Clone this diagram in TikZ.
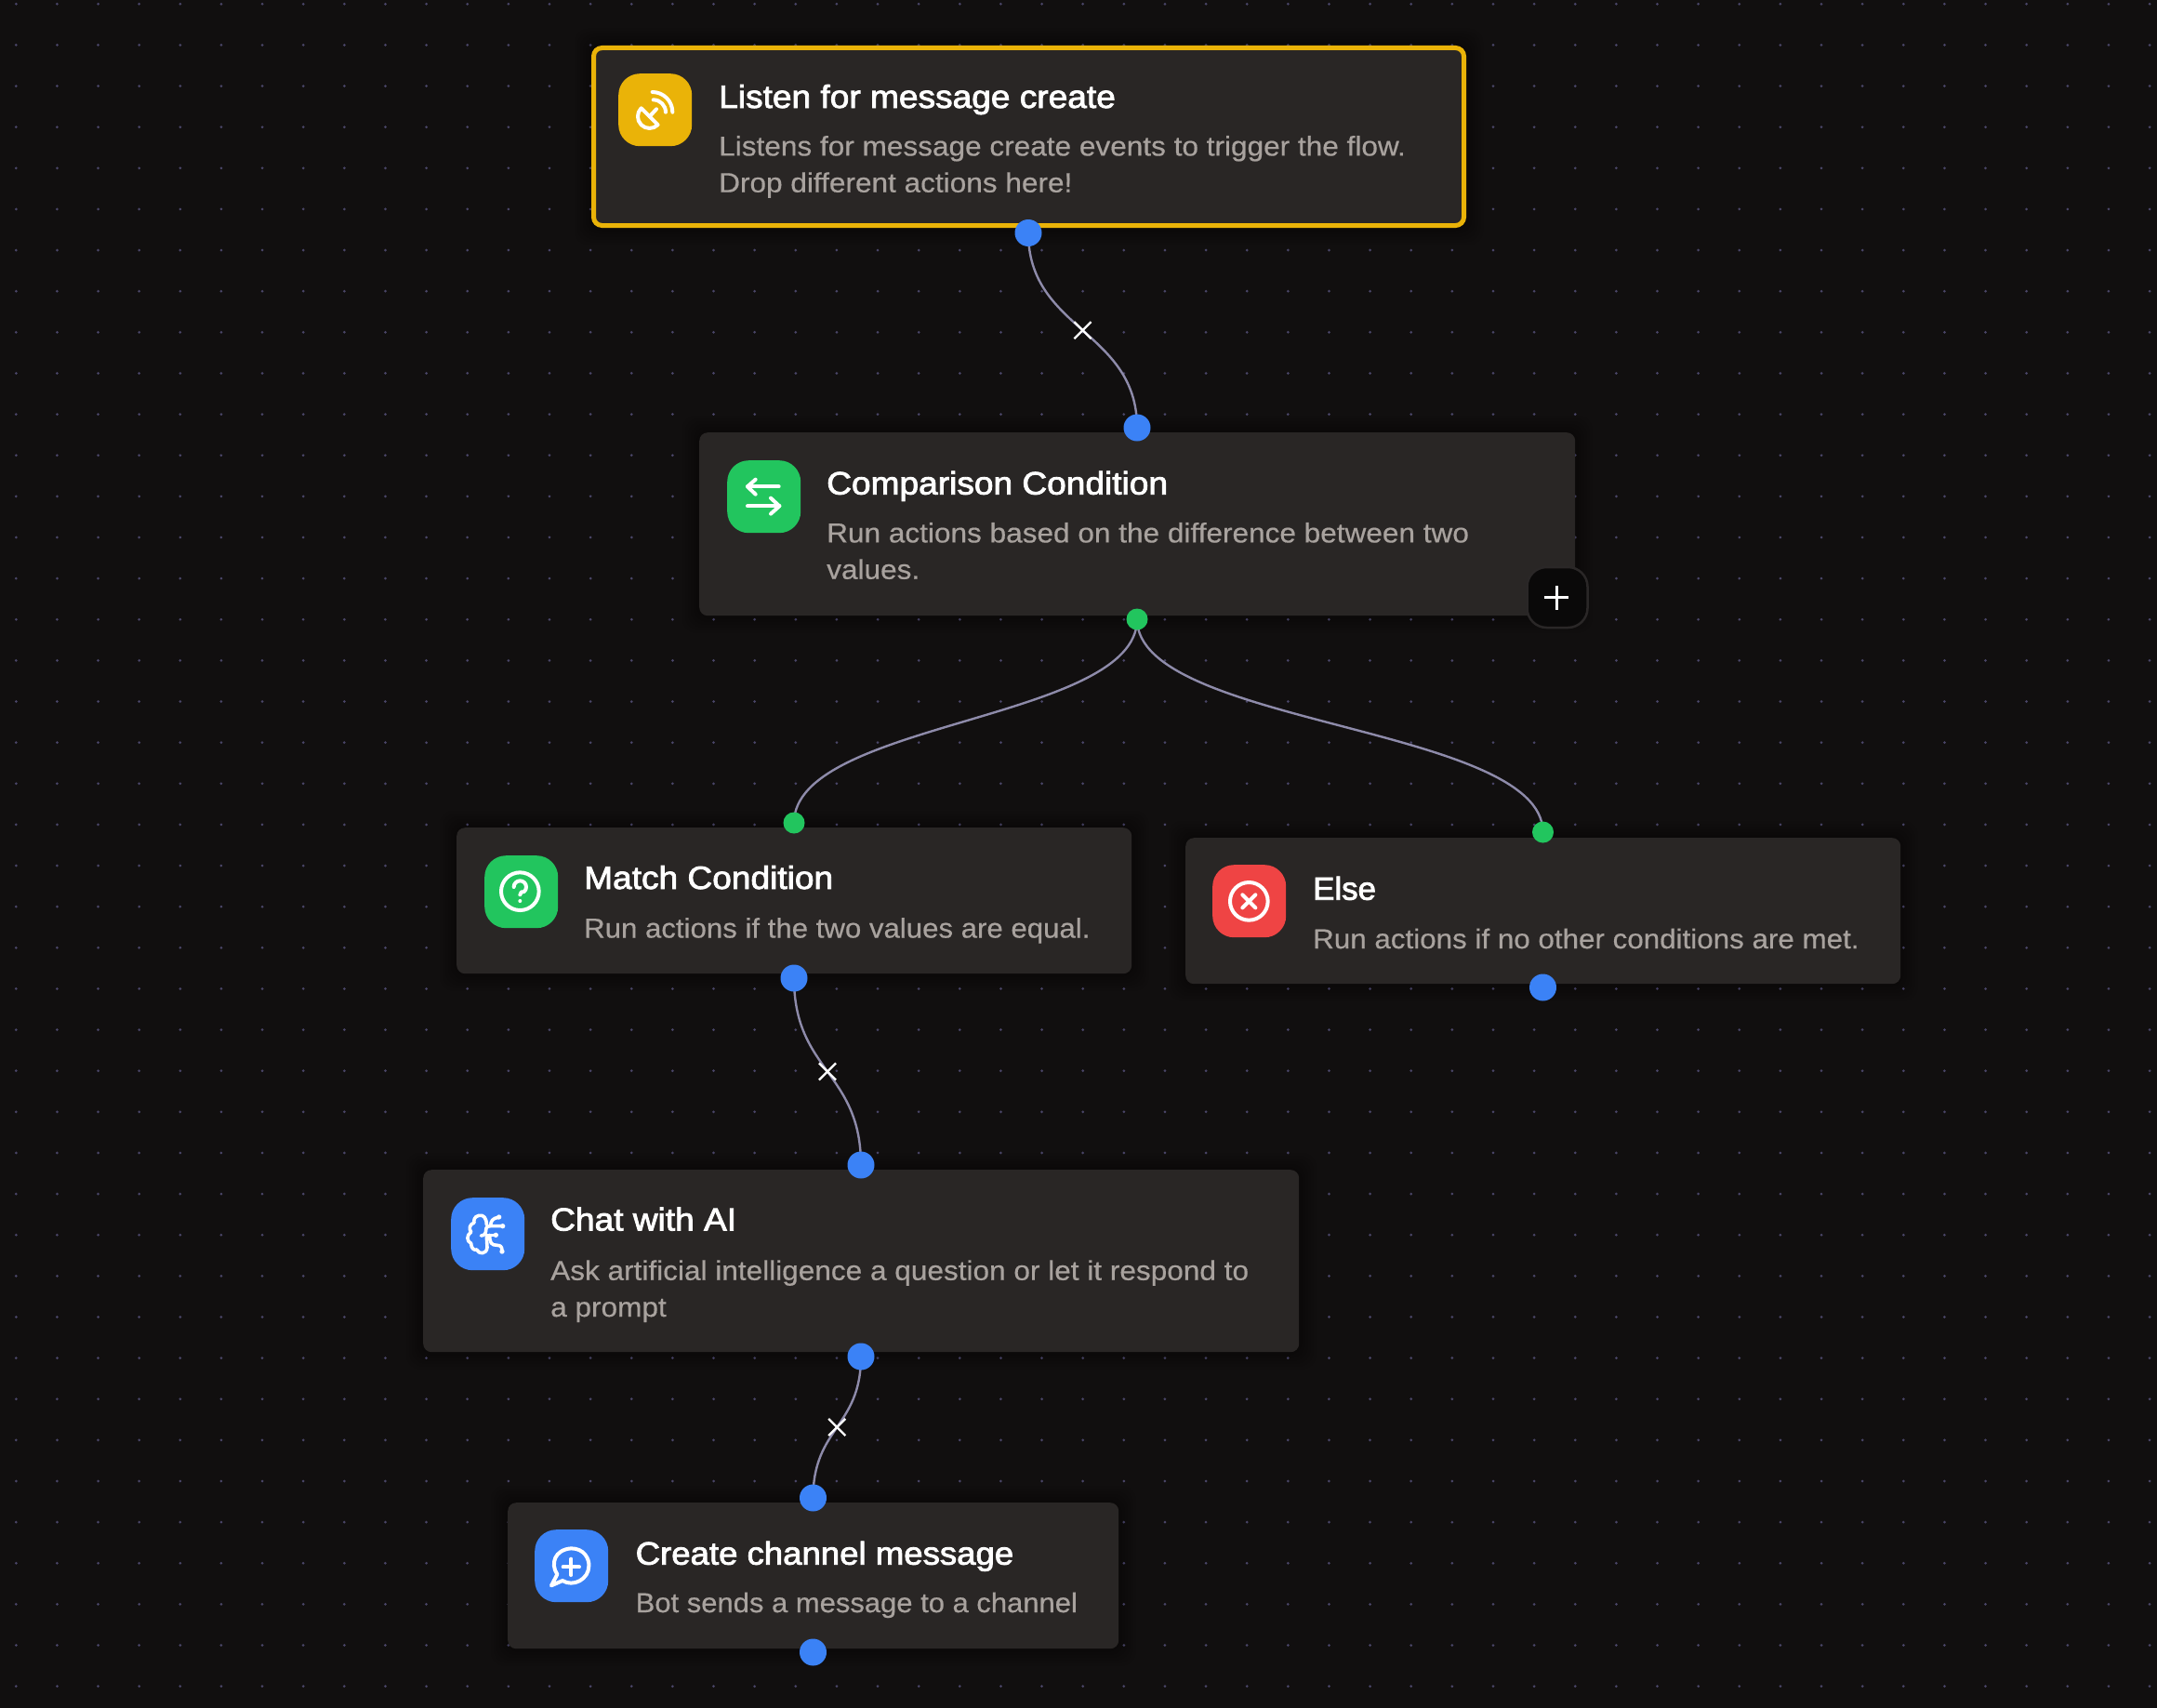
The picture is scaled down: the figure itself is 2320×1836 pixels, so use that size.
\documentclass[tikz,border=0pt]{standalone}
\usepackage{fontspec}
\usetikzlibrary{backgrounds,shapes.misc,calc}
\pgfdeclarelayer{edgelayer}
\pgfsetlayers{background,edgelayer,main}
\newfontfamily\ttlfont[FakeBold=2.4,FakeStretch=1.075]{Liberation Sans}
\newfontfamily\ttlfontb[FakeBold=2.4,FakeStretch=1.06]{Liberation Sans}
\newfontfamily\ttlfontc[FakeBold=2.4,FakeStretch=1.01]{Liberation Sans}
\newfontfamily\dscfont[FakeBold=0.5,FakeStretch=1.07]{Liberation Sans}
\newfontfamily\dscfontb[FakeBold=0.5,FakeStretch=1.057]{Liberation Sans}
\newfontfamily\dscfontc[FakeBold=0.5,FakeStretch=1.05]{Liberation Sans}
\newfontfamily\dscfontd[FakeBold=0.5,FakeStretch=1.063]{Liberation Sans}
\definecolor{bgc}{HTML}{110F0F}
\definecolor{boxc}{HTML}{292625}
\definecolor{dotc}{HTML}{4A4668}
\definecolor{edgec}{HTML}{8E8BAA}
\definecolor{ylw}{HTML}{EAB308}
\definecolor{grn}{HTML}{22C55E}
\definecolor{red}{HTML}{EF4444}
\definecolor{blu}{HTML}{3B82F6}
\definecolor{dsc}{HTML}{A8A29E}
\definecolor{plusbg}{HTML}{0A0909}
\definecolor{plusbd}{HTML}{2A2727}
\tikzset{
  x=1pt,y=1pt,
  card/.style={fill=boxc,rounded corners=9pt,inner sep=0pt,anchor=north west,draw=none},
  iconbox/.style={rounded corners=23pt,inner sep=0pt,minimum width=79pt,minimum height=78pt,anchor=north west,draw=none},
  ttl/.style={anchor=base west,inner sep=0pt,text=white,font=\ttlfont\fontsize{34.5}{40}\selectfont},
  ttlb/.style={ttl,font=\ttlfontb\fontsize{34.5}{40}\selectfont},
  ttlc/.style={ttl,font=\ttlfontc\fontsize{34.5}{40}\selectfont},
  dsc/.style={anchor=base west,inner sep=0pt,text=dsc,align=left,font=\dscfont\fontsize{29.5}{39.3}\selectfont},
  dscb/.style={dsc,font=\dscfontb\fontsize{29.5}{39.3}\selectfont},
  dscc/.style={dsc,font=\dscfontc\fontsize{29.5}{39.3}\selectfont},
  dscd/.style={dsc,font=\dscfontd\fontsize{29.5}{39.3}\selectfont},
  bluehandle/.style={circle,fill=blu,inner sep=0pt,minimum size=29pt},
  greenhandle/.style={circle,fill=grn,inner sep=0pt,minimum size=23pt},
  wire/.style={draw=edgec,line width=2.4pt},
  xmark/.style={cross out,draw=white,line width=2.2pt,inner sep=0pt,minimum size=16pt},
  ico/.style={draw=white,line width=4pt,line cap=round,line join=round},
  glow/.style={black,opacity=0.02,rounded corners=14pt},
}
\newcommand{\wirelink}[3]{%
  \path (#1) -- (#2) coordinate[midway] (#3);
  \begin{pgfonlayer}{edgelayer}
    \draw[wire] (#1.center) .. controls (#1 |- #3) and (#2 |- #3) .. (#2.center);
  \end{pgfonlayer}}
\newcommand{\cardshadow}[1]{%
  \begin{pgfonlayer}{edgelayer}
  \foreach \d in {3,6,9,12,15,18} {
    \fill[glow] ($(#1.south west)+(-\d,-\d)$) rectangle ($(#1.north east)+(\d,\d)$);
  }
  \end{pgfonlayer}}
\begin{document}
\begin{tikzpicture}
\useasboundingbox (0,0) rectangle (2320,-1836);
\begin{scope}[on background layer]
  \fill[bgc] (-3,3) rectangle (2323,-1839);
  \fill[dotc] foreach \i in {0,...,52} { foreach \j in {0,...,41} {
     ({17.3+44.13*\i},{-4.3-44.13*\j}) circle[radius=1.5] } };
\end{scope}
% cards
\node[card,draw=ylw,line width=5pt,minimum width=936pt,minimum height=191pt] (listen) at (636,-49) {};
\node[card,minimum width=942pt,minimum height=197pt] (compare) at (752,-465) {};
\node[card,minimum width=726pt,minimum height=157pt] (match) at (491,-890) {};
\node[card,minimum width=769pt,minimum height=157pt] (else) at (1275,-901) {};
\node[card,minimum width=942pt,minimum height=196pt] (chat) at (455,-1258) {};
\node[card,minimum width=657pt,minimum height=157pt] (create) at (546,-1616) {};
\cardshadow{listen}\cardshadow{compare}\cardshadow{match}\cardshadow{else}\cardshadow{chat}\cardshadow{create}
% icon tiles
\node[iconbox,fill=ylw] (icListen) at (665,-79) {};
\node[iconbox,fill=grn] (icCompare) at (782,-495) {};
\node[iconbox,fill=grn] (icMatch) at (521,-920) {};
\node[iconbox,fill=red] (icElse) at (1304,-930) {};
\node[iconbox,fill=blu] (icChat) at (485,-1288) {};
\node[iconbox,fill=blu] (icCreate) at (575,-1645) {};
% text
\node[ttl] (t1) at (773,-116) {Listen for message create};
\node[dsc] (d1) at (773,-206.7) {Listens for message create events to trigger the flow.\\Drop different actions here!};
\node[ttl] (t2) at (889,-531.7) {Comparison Condition};
\node[dsc] (d2) at (889,-622.7) {Run actions based on the difference between two\\values.};
\node[ttl] (t3) at (628,-956) {Match Condition};
\node[dscb] (d3) at (628,-1008.5) {Run actions if the two values are equal.};
\node[ttlc] (t4) at (1412,-967.7) {Else};
\node[dscd] (d4) at (1412,-1020) {Run actions if no other conditions are met.};
\node[ttl] (t5) at (592,-1323.5) {Chat with AI};
\node[dsc] (d5) at (592,-1416) {Ask artificial intelligence a question or let it respond to\\a prompt};
\node[ttlb] (t6) at (683.5,-1682.7) {Create channel message};
\node[dscc] (d6) at (683.5,-1734) {Bot sends a message to a channel};
% handles
\node[bluehandle] (h1) at (1106,-250.5) {};
\node[bluehandle] (h2) at (1223,-460) {};
\node[greenhandle] (h3) at (1223,-666) {};
\node[greenhandle] (h4) at (854,-885) {};
\node[greenhandle] (h5) at (1659.5,-895) {};
\node[bluehandle] (h6) at (854,-1052) {};
\node[bluehandle] (h7) at (1659.5,-1062) {};
\node[bluehandle] (h8) at (926,-1253) {};
\node[bluehandle] (h9) at (926,-1459) {};
\node[bluehandle] (h10) at (874.5,-1611) {};
\node[bluehandle] (h11) at (874.5,-1777) {};
% wires
\wirelink{h1}{h2}{m1}
\wirelink{h3}{h4}{m2}
\wirelink{h3}{h5}{m3}
\wirelink{h6}{h8}{m4}
\wirelink{h9}{h10}{m5}
\node[xmark] (x1) at (m1) {};
\node[xmark] (x4) at (m4) {};
\node[xmark] (x5) at (m5) {};
% plus button
\node[rounded corners=21pt,fill=plusbg,draw=plusbd,line width=2.5pt,minimum size=65pt,inner sep=0pt] (plus) at (1675,-642.5) {};
\draw[white,line width=3pt] ($(plus.center)+(-14,0)$) -- ($(plus.center)+(12,0)$);
\draw[white,line width=3pt] ($(plus.center)+(-1,-13)$) -- ($(plus.center)+(-1,13)$);
% icon: dish
\begin{scope}[shift={(620,-30)},scale=1/3,ico]
  \draw (209,-259) arc[start angle=135,end angle=315,radius=38] -- cycle;
  \draw (236,-286) -- (258,-262);
  \draw (245,-207) arc[start angle=90,end angle=0,radius=65];
  \draw (248,-232) arc[start angle=90,end angle=0,radius=40];
\end{scope}
% icon: swap
\begin{scope}[shift={(740,-450)},scale=1/3,ico]
  \draw (293,-220) -- (192,-220);
  \draw (218,-197) -- (192,-220) -- (218,-245);
  \draw (192,-283) -- (295,-283);
  \draw (267,-257) -- (295,-283) -- (267,-308);
\end{scope}
% icon: question
\begin{scope}[shift={(480,-880)},scale=1/3,ico]
  \draw (238,-236) circle[radius=61];
  \draw (218,-222) arc[start angle=180,end angle=-50,radius=20] .. controls (245,-236) and (238,-238) .. (238,-247);
  \fill[white] (238,-267) circle[radius=6];
\end{scope}
% icon: cross
\begin{scope}[shift={(1270,-900)},scale=1/3,ico]
  \draw (220,-208) circle[radius=61];
  \draw (199,-187) -- (241,-229);
  \draw (241,-187) -- (199,-229);
\end{scope}
% icon: brain
\begin{scope}[shift={(460,-1260)},scale=1/3,ico,line width=3.6pt]
  \draw (190,-172) .. controls (190,-150) and (180,-138) .. (165,-142)
     .. controls (150,-145) and (148,-158) .. (150,-165)
     .. controls (135,-170) and (132,-185) .. (140,-195)
     .. controls (125,-205) and (125,-225) .. (140,-232)
     .. controls (140,-248) and (150,-255) .. (158,-252)
     .. controls (165,-268) and (190,-268) .. (192,-245) -- (190,-210);
  \draw (172,-207) .. controls (182,-207) and (188,-200) .. (188,-190) .. controls (188,-180) and (192,-176) .. (200,-176) -- (240,-176);
  \draw (203,-176) .. controls (203,-160) and (210,-150) .. (228,-148);
  \draw (190,-205) -- (218,-205);
  \draw (200,-205) .. controls (200,-230) and (205,-238) .. (225,-238) .. controls (235,-238) and (240,-243) .. (240,-256);
  \fill[white] (230,-147) circle[radius=8] (242,-176) circle[radius=8] (220,-205) circle[radius=8] (240,-258) circle[radius=8];
\end{scope}
% icon: message plus
\begin{scope}[shift={(550,-1620)},scale=1/3,ico]
  \draw (148,-220) .. controls (125,-185) and (140,-140) .. (193,-136)
     .. controls (235,-136) and (252,-170) .. (250,-193)
     .. controls (250,-235) and (200,-262) .. (165,-240)
     -- (129,-256) -- (148,-220);
  \draw (193,-170) -- (193,-222);
  \draw (167,-196) -- (219,-196);
\end{scope}
\end{tikzpicture}
\end{document}
